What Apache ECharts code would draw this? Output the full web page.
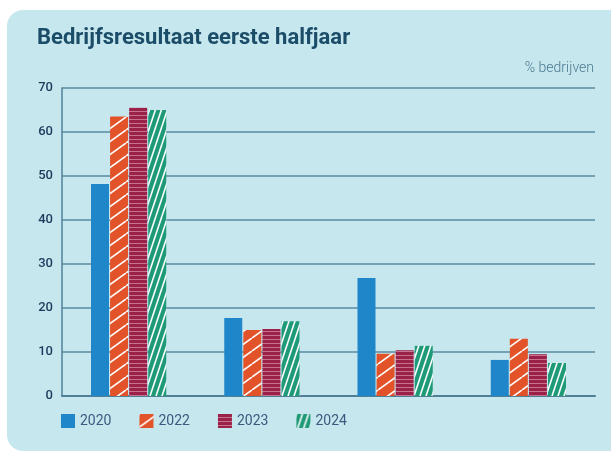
<!DOCTYPE html>
<html>
<head>
<meta charset="utf-8">
<script src="https://cdn.jsdelivr.net/npm/echarts@6/dist/echarts.min.js"></script>
<style>
  html, body { margin: 0; padding: 0; background: #fff; }
  #chart { width: 611px; height: 451px; }
</style>
</head>
<body>
<div id="chart"></div>
<script>
// data (% bedrijven)
const categories = ['Winst', 'Quitte', 'Verlies', 'Weet niet'];
const years = ['2020', '2022', '2023', '2024'];
const values2020 = [48.2, 17.7, 26.8, 8.2];
const values2022 = [63.5, 15.0, 9.6, 13.0];
const values2023 = [65.5, 15.2, 10.4, 9.5];
const values2024 = [65.0, 17.0, 11.4, 7.5];
const yTicks = [0, 10, 20, 30, 40, 50, 60, 70];

// small canvas tiles used as bar fills
function tile(w, h, bg, draw) {
  const c = document.createElement('canvas');
  c.width = w; c.height = h;
  const g = c.getContext('2d');
  g.fillStyle = bg;
  g.fillRect(0, 0, w, h);
  draw(g, w, h);
  return { image: c, repeat: 'repeat' };
}

function diagonal(g, w, h, color, lw) {
  g.strokeStyle = color;
  g.lineWidth = lw;
  for (let k = -1; k <= 1; k++) {
    g.beginPath();
    g.moveTo(k * w, h);
    g.lineTo(k * w + w, 0);
    g.stroke();
  }
}

const fill2020 = '#1f87c9';
const fill2022 = tile(18, 13, '#e2532a', (g, w, h) => diagonal(g, w, h, '#ffffff', 1.6));
const fill2023 = tile(8, 4, '#9a2248', (g, w, h) => {
  g.fillStyle = '#c9728f';
  g.fillRect(0, 3, w, 1);
});
const fill2024 = tile(6, 18, '#1e9a78', (g, w, h) => diagonal(g, w, h, '#ffffff', 1.6));

const fills = [fill2020, fill2022, fill2023, fill2024];
const seriesValues = [values2020, values2022, values2023, values2024];

const chart = echarts.init(document.getElementById('chart'));
chart.setOption({
  animation: false,
  title: {
    text: 'Bedrijfsresultaat eerste halfjaar',
    left: 32,
    top: 22,
    textStyle: { fontFamily: 'Roboto', fontSize: 22, fontWeight: 'bold', color: '#1b4d68' }
  },
  graphic: [
    {
      type: 'rect', z: -10, silent: true,
      shape: { x: 7, y: 10, width: 640, height: 441, r: [16, 0, 0, 16] },
      style: { fill: '#c6e7ee' }
    },
    {
      type: 'text', right: 17, top: 61,
      style: { text: '% bedrijven', fill: '#4c7890', fontFamily: 'Roboto', fontSize: 14, fontWeight: 300 }
    }
  ],
  legend: {
    left: 56,
    top: 409,
    itemWidth: 14,
    itemHeight: 14,
    itemGap: 28,
    icon: 'rect',
    textStyle: { fontFamily: 'Roboto', fontSize: 14, color: '#3b5a7e' },
    data: years
  },
  grid: { left: 62, right: 16, top: 88, bottom: 55 },
  xAxis: {
    type: 'category',
    data: categories,
    axisLine: { lineStyle: { color: '#4f8098', width: 2 } },
    axisTick: { show: false },
    axisLabel: { show: false }
  },
  yAxis: {
    type: 'value',
    min: yTicks[0],
    max: yTicks[yTicks.length - 1],
    interval: 10,
    axisLine: { show: true, lineStyle: { color: '#4f8098', width: 1.5 } },
    axisTick: { show: false },
    axisLabel: { margin: 9, fontFamily: 'Roboto', fontSize: 13, fontWeight: 500, color: '#1d3a5c' },
    splitLine: { lineStyle: { color: '#5a8aa0', width: 1.5 } }
  },
  series: years.map((y, i) => ({
    name: y,
    type: 'bar',
    data: seriesValues[i],
    barWidth: 18,
    barGap: '6%',
    itemStyle: { color: fills[i] }
  }))
});
</script>
</body>
</html>
